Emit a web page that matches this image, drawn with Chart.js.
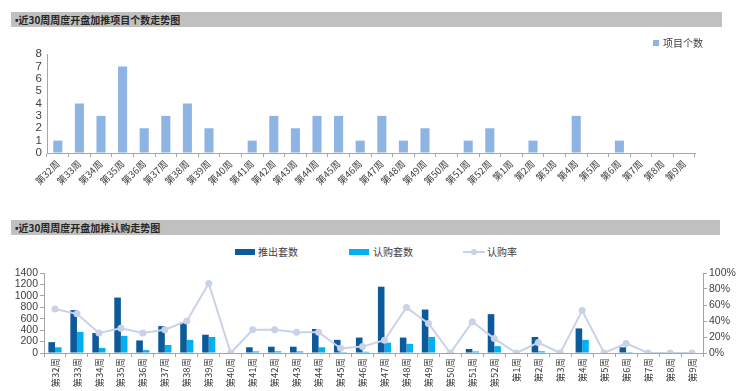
<!DOCTYPE html>
<html><head><meta charset="utf-8">
<script src="https://cdn.jsdelivr.net/npm/chart.js@4"></script>
<style>
html,body{margin:0;padding:0;background:#fff}
body{width:740px;height:391px;position:relative;overflow:hidden;font-family:"Noto Sans CJK SC","Liberation Sans",sans-serif}
.hdr{position:absolute;left:11px;height:15px;background:#C0C0C0;box-sizing:border-box;padding-left:4px;font-size:10px;font-weight:bold;color:#262626;line-height:15px;white-space:nowrap}
.hdr b{font-family:"Liberation Sans",sans-serif;font-weight:bold}
.cv{position:absolute;left:0}
.lg{position:absolute;font-size:10px;color:#404040;line-height:12px;white-space:nowrap}
.sw{position:absolute}
</style>
</head><body>
<div class="hdr" style="top:12px;width:711px"><b>•</b>近30周周度开盘加推项目个数走势图</div>
<div class="hdr" style="top:220px;width:709px"><b>•</b>近30周周度开盘加推认购走势图</div>

<canvas id="c1" class="cv" style="top:40px" width="740" height="160"></canvas>
<canvas id="c2" class="cv" style="top:262px" width="740" height="129"></canvas>

<div class="sw" style="left:653px;top:40px;width:6px;height:6px;background:#8DB4E2"></div>
<div class="lg" style="left:663px;top:37px">项目个数</div>

<div class="sw" style="left:235px;top:249px;width:20px;height:6px;background:#0C5A9A"></div>
<div class="lg" style="left:258px;top:246px">推出套数</div>
<div class="sw" style="left:349px;top:249px;width:20px;height:6px;background:#00B0F0"></div>
<div class="lg" style="left:373px;top:246px">认购套数</div>
<div class="sw" style="left:463px;top:251px;width:22px;height:2px;background:#C9D2E8"></div>
<div class="sw" style="left:471px;top:249px;width:6px;height:6px;border-radius:50%;background:#C9D2E8"></div>
<div class="lg" style="left:487px;top:246px">认购率</div>

<script>
const weeks = ['第32周','第33周','第34周','第35周','第36周','第37周','第38周','第39周','第40周','第41周',
  '第42周','第43周','第44周','第45周','第46周','第47周','第48周','第49周','第50周','第51周',
  '第52周','第1周','第2周','第3周','第4周','第5周','第6周','第7周','第8周','第9周'];
const projectCounts = [1,4,3,7,2,3,4,2,0,1,3,2,3,3,1,3,1,2,0,1,2,0,1,0,3,0,1,0,0,0];
const launchedUnits = [190,750,350,970,220,470,540,320,0,100,110,110,420,230,270,1160,270,760,0,70,680,0,280,0,430,0,100,0,0,0];
const subscribedUnits = [100,370,90,300,50,140,230,280,0,28,30,28,100,15,22,180,160,280,0,27,120,0,30,0,230,0,15,0,0,0];
const subscriptionRate = [55,49,25,31,25,29,40,87,0,29,29,26,26,6,8,16,57,37,0,39,18,0,13,0,53,0,12,0,0,0];

Chart.defaults.font.family = '"Liberation Sans","Noto Sans CJK SC",sans-serif';
Chart.defaults.color = '#404040';
const axisColor = '#A6A6A6';

new Chart(document.getElementById('c1'), {
  type: 'bar',
  data: { labels: weeks, datasets: [{ label: '项目个数', data: projectCounts, backgroundColor: '#8DB4E2',
    categoryPercentage: 0.42, barPercentage: 1.0 }] },
  options: {
    responsive: false, animation: false, devicePixelRatio: 1,
    layout: { padding: { top: 14, right: 45, left: 0, bottom: 0 } },
    plugins: { legend: { display: false }, tooltip: { enabled: false } },
    scales: {
      x: {
        grid: { display: true, drawOnChartArea: false, drawTicks: true, tickLength: 4, color: axisColor, offset: true },
        border: { display: true, color: axisColor },
        ticks: { minRotation: 45, maxRotation: 45, autoSkip: false, padding: 1,
          font: { size: 9.5, family: '"Noto Sans CJK SC",sans-serif' }, color: '#404040' },
        afterFit: s => { s.height = 47; }
      },
      y: {
        min: 0, max: 8,
        grid: { display: true, drawOnChartArea: false, drawTicks: false, color: axisColor },
        border: { display: true, color: axisColor },
        ticks: { stepSize: 1, autoSkip: false, padding: 5, font: { size: 11.5 }, color: '#404040' },
        afterFit: s => { s.width = 47; }
      }
    }
  }
});

new Chart(document.getElementById('c2'), {
  type: 'bar',
  data: { labels: weeks, datasets: [
    { type: 'line', label: '认购率', data: subscriptionRate, yAxisID: 'y1', order: 0,
      borderColor: '#C9D2E8', backgroundColor: '#C9D2E8', borderWidth: 2, tension: 0,
      pointRadius: 3.5, pointBackgroundColor: '#C9D2E8', pointBorderWidth: 0 },
    { label: '推出套数', data: launchedUnits, backgroundColor: '#0C5A9A', yAxisID: 'y', order: 1,
      categoryPercentage: 0.6, barPercentage: 1.0 },
    { label: '认购套数', data: subscribedUnits, backgroundColor: '#00B0F0', yAxisID: 'y', order: 1,
      categoryPercentage: 0.6, barPercentage: 1.0 }
  ] },
  options: {
    responsive: false, animation: false, devicePixelRatio: 1,
    layout: { padding: { top: 11, right: 0, left: 0, bottom: 0 } },
    plugins: { legend: { display: false }, tooltip: { enabled: false } },
    scales: {
      x: {
        grid: { display: true, drawOnChartArea: false, drawTicks: true, tickLength: 4, color: axisColor, offset: true },
        border: { display: true, color: axisColor },
        ticks: { minRotation: 90, maxRotation: 90, autoSkip: false, padding: 1,
          font: { size: 9.5, family: '"Noto Sans CJK SC",sans-serif' }, color: '#404040' },
        afterFit: s => { s.height = 38; }
      },
      y: {
        position: 'left', min: 0, max: 1400,
        grid: { display: true, drawOnChartArea: false, drawTicks: true, tickLength: 4, color: axisColor },
        border: { display: true, color: axisColor },
        ticks: { stepSize: 200, autoSkip: false, padding: 2, font: { size: 10.5 }, color: '#404040',
          callback: v => String(v) },
        afterFit: s => { s.width = 44; }
      },
      y1: {
        position: 'right', min: 0, max: 100,
        grid: { display: true, drawOnChartArea: false, drawTicks: true, tickLength: 4, color: axisColor },
        border: { display: true, color: axisColor },
        ticks: { stepSize: 20, autoSkip: false, padding: 2, font: { size: 10.5 }, color: '#404040', callback: v => v + '%' },
        afterFit: s => { s.width = 37; }
      }
    }
  }
});
</script>
</body></html>
